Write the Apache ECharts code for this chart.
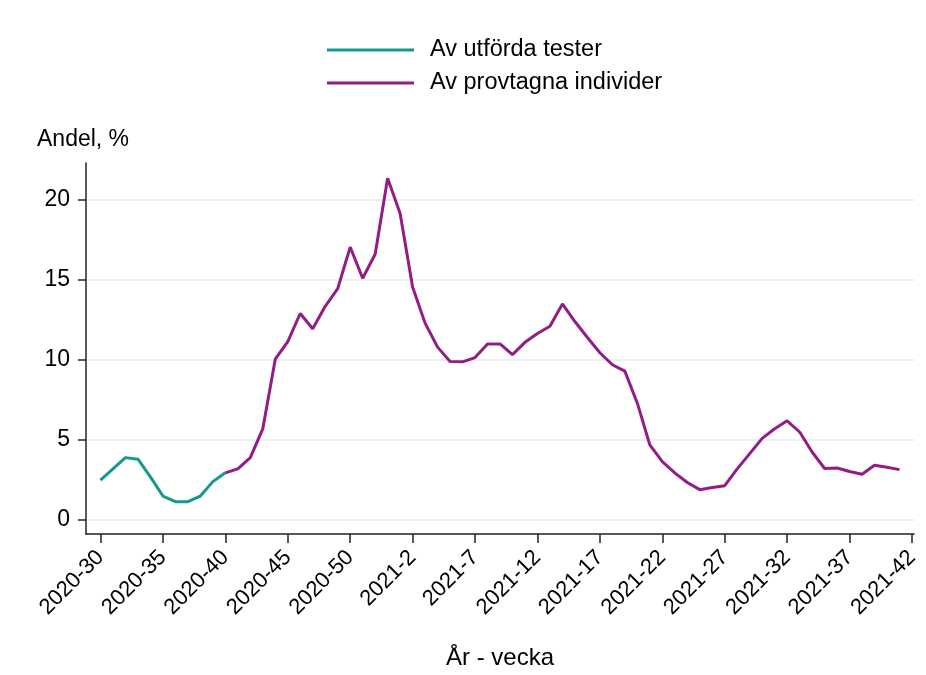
<!DOCTYPE html>
<html>
<head>
<meta charset="utf-8">
<script src="https://cdn.jsdelivr.net/npm/echarts@6/dist/echarts.min.js"></script>
<style>
html,body{margin:0;padding:0;background:#fff;}
#c{width:926px;height:675px;}
</style>
</head>
<body>
<div id="c"></div>
<script>
const weeks = [
  "2020-30","2020-31","2020-32","2020-33","2020-34","2020-35","2020-36","2020-37","2020-38","2020-39",
  "2020-40","2020-41","2020-42","2020-43","2020-44","2020-45","2020-46","2020-47","2020-48","2020-49",
  "2020-50","2020-51","2020-52","2020-53","2021-1","2021-2","2021-3","2021-4","2021-5","2021-6",
  "2021-7","2021-8","2021-9","2021-10","2021-11","2021-12","2021-13","2021-14","2021-15","2021-16",
  "2021-17","2021-18","2021-19","2021-20","2021-21","2021-22","2021-23","2021-24","2021-25","2021-26",
  "2021-27","2021-28","2021-29","2021-30","2021-31","2021-32","2021-33","2021-34","2021-35","2021-36",
  "2021-37","2021-38","2021-39","2021-40","2021-41","2021-42"
];
const tickWeeks = ["2020-30","2020-35","2020-40","2020-45","2020-50","2021-2","2021-7","2021-12","2021-17","2021-22","2021-27","2021-32","2021-37","2021-42"];
const yTicks = [0, 5, 10, 15, 20];

const testWeeks = weeks.slice(0, 11);
const testValues = [2.5, 3.2, 3.9, 3.8, 2.7, 1.5, 1.15, 1.15, 1.5, 2.4, 2.95];

const indWeeks = weeks.slice(10, 65);
const indValues = [
  2.95, 3.2, 3.9, 5.7, 10.05, 11.15, 12.9, 11.95, 13.35, 14.45,
  17.05, 15.1, 16.6, 21.35, 19.15, 14.55, 12.3, 10.8, 9.9, 9.88,
  10.15, 11.0, 11.0, 10.33, 11.1, 11.65, 12.1, 13.5, 12.4, 11.4,
  10.45, 9.7, 9.3, 7.3, 4.7, 3.65, 2.95, 2.35, 1.9, 2.03,
  2.15, 3.2, 4.15, 5.1, 5.7, 6.2, 5.5, 4.25, 3.22, 3.25,
  3.03, 2.86, 3.42, 3.3, 3.15
];

const legendNames = ["Av utförda tester", "Av provtagna individer"];
const colors = ["#14998b", "#911d85"];
const FONT = "Liberation Sans, Arial, sans-serif";

const toPairs = (ws, vs) => ws.map((w, i) => [weeks.indexOf(w), vs[i]]);

const chart = echarts.init(document.getElementById('c'), null, {renderer: 'canvas'});
chart.setOption({
  animation: false,
  backgroundColor: '#ffffff',
  textStyle: {fontFamily: FONT, color: '#000'},
  graphic: [{
    type: 'text', left: 37, top: 128,
    style: {text: 'Andel, %', font: '23px ' + FONT, fill: '#000'}
  }],
  legend: {
    orient: 'vertical',
    left: 327, top: 38,
    padding: 0,
    icon: 'rect',
    itemWidth: 87, itemHeight: 3,
    itemGap: 9,
    textStyle: {fontSize: 23.5, fontFamily: FONT, color: '#000', lineHeight: 23, padding: [0, 0, 0, 11]},
    data: legendNames
  },
  grid: {left: 86, right: 12, top: 163, bottom: 138, containLabel: false},
  xAxis: {
    type: 'value',
    min: -1.16, max: 65.16,
    name: 'År - vecka',
    nameLocation: 'middle',
    nameGap: 112,
    nameTextStyle: {fontSize: 24, fontFamily: FONT, color: '#000'},
    axisLine: {show: true, onZero: false, lineStyle: {color: '#222', width: 1.5}},
    axisTick: {show: true, length: 9, lineStyle: {color: '#222', width: 1.5},
      customValues: tickWeeks.map(w => weeks.indexOf(w))},
    axisLabel: {
      customValues: tickWeeks.map(w => weeks.indexOf(w)),
      rotate: 45, fontSize: 22, fontFamily: FONT, color: '#000', margin: 20,
      formatter: v => weeks[Math.round(v)]
    },
    splitLine: {show: false}
  },
  yAxis: {
    type: 'value',
    min: -0.87, max: 22.3,
    axisLine: {show: true, onZero: false, lineStyle: {color: '#222', width: 1.5}},
    axisTick: {show: true, length: 8, lineStyle: {color: '#222', width: 1.5}, customValues: yTicks},
    axisLabel: {customValues: yTicks, fontSize: 23, fontFamily: FONT, color: '#000', margin: 16},
    splitLine: {show: true, lineStyle: {color: '#e9f1f3', width: 2}}
  },
  series: [
    {
      name: legendNames[0], type: 'line', showSymbol: false, symbol: 'none',
      data: toPairs(testWeeks, testValues),
      lineStyle: {color: colors[0], width: 3}, itemStyle: {color: colors[0]}, z: 3
    },
    {
      name: legendNames[1], type: 'line', showSymbol: false, symbol: 'none',
      data: toPairs(indWeeks, indValues),
      lineStyle: {color: colors[1], width: 3}, itemStyle: {color: colors[1]}, z: 3
    }
  ]
});
</script>
</body>
</html>
